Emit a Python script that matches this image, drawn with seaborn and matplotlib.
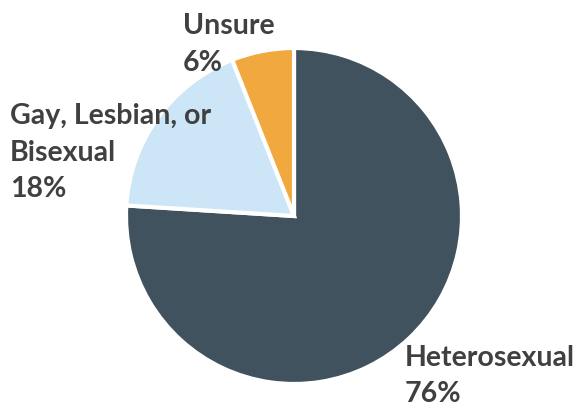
import matplotlib
matplotlib.use("Agg")
import matplotlib.pyplot as plt
import seaborn as sns

categories = ["Heterosexual", "Gay, Lesbian, or\nBisexual", "Unsure"]
shares = [76, 18, 6]
colors = ["#3F525E", "#CCE5F7", "#F0A83F"]

sns.set_theme(style="white")
plt.rcParams["font.family"] = ["Lato", "DejaVu Sans"]

W, H = 581, 412
fig = plt.figure(figsize=(W / 100, H / 100), dpi=100)
ax = fig.add_axes([0, 0, 1, 1])

ax.pie(shares, colors=colors, startangle=90, counterclock=False,
       center=(294, H - 216), radius=168, frame=True,
       wedgeprops=dict(edgecolor="white", linewidth=3))
ax.set_xlim(0, W)
ax.set_ylim(0, H)
ax.set_aspect("equal")
ax.axis("off")

label_pos = {
    "Heterosexual": (405, H - 345),
    "Gay, Lesbian, or\nBisexual": (10, H - 103),
    "Unsure": (183, H - 13),
}
for cat, val in zip(categories, shares):
    x, y = label_pos[cat]
    ax.text(x, y, f"{cat}\n{val}%", ha="left", va="top", fontsize=20.5,
            fontweight="bold", color="#404040", linespacing=1.5)

fig.savefig("out.png", dpi=100)
